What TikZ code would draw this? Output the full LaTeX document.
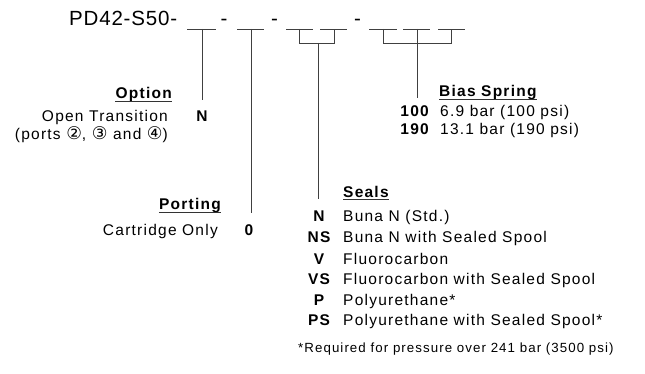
\documentclass[tikz,border=0pt]{standalone}
\usepackage{fontspec}
\setmainfont{Liberation Sans}[LetterSpace=8]
\newfontfamily\titlefont{Liberation Sans}[LetterSpace=4]
\newfontfamily\symfont{DejaVu Sans}
\newcommand{\circnum}[1]{{\symfont\fontsize{17.5}{18}\selectfont #1}}
\begin{document}
\begin{tikzpicture}[x=1pt,y=-1pt,
  every node/.style={inner sep=0pt, text=black},
  body/.style={font=\fontsize{15.5}{18}\selectfont},
  code/.style={font=\fontsize{15.5}{18}\selectfont\bfseries},
  heading/.style={font=\fontsize{15.5}{18}\selectfont\bfseries},
  note/.style={font=\fontsize{13.3}{15}\selectfont},
  ttl/.style={font=\fontsize{20.5}{24}\titlefont},
  leader/.style={draw=black!75, line width=0.9pt},
  uline/.style={draw=black!80, line width=0.9pt}]
\useasboundingbox (0,0) rectangle (645,374);

% title and separators
\node[ttl, anchor=base west] (title) at (69,26) {PD42-S50-};
\node[ttl, anchor=base] (d1) at (224,26) {-};
\node[ttl, anchor=base] (d2) at (274.5,26) {-};
\node[ttl, anchor=base] (d3) at (357.5,26) {-};

% blank positions
\foreach \a/\b in {187/216,237/264,286/313,320/347,369/397,403/430,438/465}
  \draw[leader] (\a,29) -- (\b,29);

% connector coordinates
\coordinate (b1) at (202,29);  \coordinate (e1) at (202,100);
\coordinate (b2) at (251,29);  \coordinate (e2) at (251,213);
\coordinate (s3a) at (299,29); \coordinate (s3b) at (334,29);
\coordinate (j3a) at (299,43); \coordinate (j3b) at (334,43);
\coordinate (j3) at (318,43);  \coordinate (e3) at (318,199);
\coordinate (s4a) at (383,29); \coordinate (s4b) at (417,29); \coordinate (s4c) at (451,29);
\coordinate (j4a) at (383,43); \coordinate (j4c) at (451,43);
\coordinate (j4) at (417,43);  \coordinate (e4) at (417,98);

\draw[leader] (b1) -- (e1);
\draw[leader] (b2) -- (e2);
\draw[leader] (s3a) -- (j3a) -- (j3b) -- (s3b);
\draw[leader] (j3) -- (e3);
\draw[leader] (s4a) -- (j4a) -- (j4c) -- (s4c);
\draw[leader] (s4b) -- (j4);
\draw[leader] (j4) -- (e4);

% Option
\node[heading, anchor=base east] (hopt) at (172,98.5) {Option};
\draw[uline] ([yshift=-2.5pt]hopt.base west) -- ([yshift=-2.5pt]hopt.base east);
\node[body, anchor=base east] (opt1) at (168,122) {Open Transition};
\node[body, anchor=base east] (opt2) at (168,140) {(ports \circnum{②}, \circnum{③} and \circnum{④})};
\node[code, anchor=base] (cN) at (202,122) {N};

% Porting
\node[heading, anchor=base east] (hport) at (221,210) {Porting};
\draw[uline] ([yshift=-2.5pt]hport.base west) -- ([yshift=-2.5pt]hport.base east);
\node[body, anchor=base east] (port1) at (218,235) {Cartridge Only};
\node[code, anchor=base] (c0) at (249,235) {0};

% Bias Spring
\node[heading, anchor=base west] (hbias) at (439,97) {Bias Spring};
\draw[uline] ([yshift=-2.5pt]hbias.base west) -- ([yshift=-2.5pt]hbias.base east);
\node[code, anchor=base east] (c100) at (429,117) {100};
\node[body, anchor=base west] (t100) at (440,117) {6.9 bar (100 psi)};
\node[code, anchor=base east] (c190) at (429,135) {190};
\node[body, anchor=base west] (t190) at (440,135) {13.1 bar (190 psi)};

% Seals
\node[heading, anchor=base west] (hseal) at (343,197) {Seals};
\draw[uline] ([yshift=-2.5pt]hseal.base west) -- ([yshift=-2.5pt]hseal.base east);
\node[code, anchor=base] (sN) at (319,222) {N};
\node[body, anchor=base west] (tN) at (343,222) {Buna N (Std.)};
\node[code, anchor=base] (sNS) at (319,242.6) {NS};
\node[body, anchor=base west] (tNS) at (343,242.6) {Buna N with Sealed Spool};
\node[code, anchor=base] (sV) at (319,264) {V};
\node[body, anchor=base west] (tV) at (343,264) {Fluorocarbon};
\node[code, anchor=base] (sVS) at (319,284.5) {VS};
\node[body, anchor=base west] (tVS) at (343,284.5) {Fluorocarbon with Sealed Spool};
\node[code, anchor=base] (sP) at (319,305) {P};
\node[body, anchor=base west] (tP) at (343,305) {Polyurethane*};
\node[code, anchor=base] (sPS) at (319,325) {PS};
\node[body, anchor=base west] (tPS) at (343,325) {Polyurethane with Sealed Spool*};

\node[note, anchor=base west] (foot) at (298,352) {*Required for pressure over 241 bar (3500 psi)};
\end{tikzpicture}
\end{document}
